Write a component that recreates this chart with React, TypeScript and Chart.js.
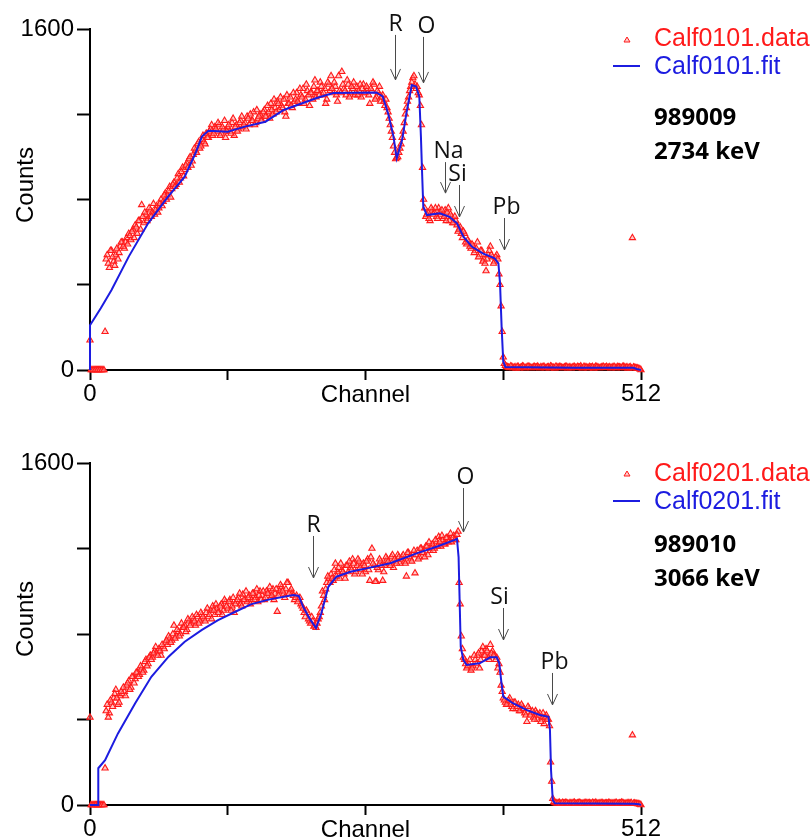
import React, { useEffect, useRef } from "react";
import { Chart, registerables } from "chart.js";
Chart.register(...registerables);

// ---------- DATA ----------
// measured counts are given on even channels (0,2,...,512) and odd channels (1,3,...,511)
const X_TICKS = [0, 128, 256, 384, 512];
const X_TICK_LABELS = ["0", "", "", "", "512"];
const Y_TICKS = [0, 400, 800, 1200, 1600];
const Y_TICK_LABELS = ["0", "", "", "", "1600"];

// Panel 1 (989009, 2734 keV) — even channels 0..512
const TOP_DATA_EVEN = [
  140, 0, 0, 0, 0, 0, 0, 180, 540, 480, 560, 510, 540, 520, 580, 600,
  570, 620, 640, 610, 660, 680, 640, 700, 775, 690, 730, 710, 750, 740, 730, 770,
  760, 800, 790, 830, 820, 860, 850, 880, 870, 920, 900, 950, 940, 970, 990, 960,
  1010, 1030, 1060, 1040, 1080, 1070, 1110, 1090, 1130, 1100, 1140, 1120, 1150, 1110, 1130, 1090,
  1140, 1120, 1160, 1100, 1150, 1130, 1170, 1140, 1160, 1190, 1150, 1170, 1210, 1160, 1180, 1200,
  1170, 1220, 1190, 1210, 1250, 1200, 1230, 1260, 1220, 1240, 1270, 1190, 1250, 1280, 1230, 1260,
  1300, 1250, 1290, 1320, 1270, 1310, 1240, 1300, 1330, 1280, 1310, 1350, 1290, 1320, 1270, 1340,
  1380, 1300, 1330, 1260, 1310, 1400, 1320, 1290, 1340, 1300, 1320, 1290, 1330, 1310, 1280, 1340,
  1300, 1320, 1250, 1310, 1340, 1280, 1300, 1260, 1290, 1240, 1230, 1180, 1120, 1050, 990, 1000,
  1040, 1090, 1160, 1230, 1280, 1330, 1370, 1340, 1330, 1290, 1150, 800, 720, 740, 700, 750,
  740, 720, 760, 730, 710, 750, 740, 700, 720, 690, 700, 650, 670, 620, 640, 590,
  600, 570, 580, 560, 600, 540, 560, 520, 465, 540, 580, 530, 510, 540, 450, 300,
  60, 20, 14, 10, 16, 12, 8, 15, 11, 18, 9, 13, 16, 10, 14, 12,
  17, 9, 12, 15, 10, 14, 18, 11, 8, 13, 16, 12, 10, 15, 9, 14,
  12, 16, 10, 13, 18, 9, 14, 11, 15, 12, 8, 17, 13, 10, 14, 11,
  16, 12, 9, 14, 11, 15, 13, 10, 17, 12, 8, 14, 620, 11, 9, 6,
  0,
];
// Panel 1 — odd channels 1..511
const TOP_DATA_ODD = [
  0, 0, 0, 0, 0, 0, 0, 520, 500, 560, 530, 490, 570, 550, 600, 580,
  600, 590, 630, 650, 620, 670, 700, 660, 720, 740, 700, 760, 720, 780, 750, 740,
  780, 770, 820, 800, 840, 810, 870, 860, 900, 880, 930, 910, 960, 950, 1000, 980,
  1040, 1020, 1070, 1050, 1100, 1060, 1090, 1120, 1150, 1110, 1130, 1160, 1100, 1140, 1170, 1120,
  1150, 1110, 1180, 1140, 1120, 1160, 1190, 1150, 1130, 1180, 1200, 1170, 1150, 1220, 1190, 1170,
  1210, 1190, 1240, 1180, 1220, 1270, 1210, 1250, 1280, 1230, 1210, 1290, 1250, 1240, 1300, 1270,
  1260, 1320, 1280, 1250, 1340, 1290, 1300, 1270, 1360, 1310, 1290, 1330, 1300, 1250, 1350, 1310,
  1320, 1350, 1290, 1380, 1300, 1340, 1310, 1360, 1280, 1330, 1350, 1300, 1290, 1340, 1320, 1300,
  1330, 1290, 1320, 1350, 1270, 1310, 1330, 1280, 1260, 1270, 1210, 1150, 1090, 1020, 995, 1020,
  1060, 1120, 1200, 1260, 1310, 1350, 1380, 1320, 1300, 1240, 950, 760, 730, 710, 760, 730,
  760, 710, 740, 750, 720, 700, 760, 730, 690, 720, 680, 660, 640, 650, 600, 610,
  580, 590, 550, 570, 530, 560, 510, 500, 520, 560, 540, 500, 530, 520, 400, 180,
  30, 15, 12, 18, 10, 14, 16, 9, 13, 15, 11, 17, 12, 10, 15, 13,
  11, 14, 16, 10, 13, 9, 15, 12, 17, 11, 14, 10, 13, 16, 12, 9,
  14, 11, 15, 12, 10, 16, 13, 9, 12, 15, 11, 14, 10, 13, 16, 12,
  10, 14, 12, 16, 9, 13, 11, 15, 10, 14, 12, 9, 13, 10, 8, 4,
];
const TOP_FIT_CH = [0, 0, 10, 20, 36, 54, 72, 88, 98, 104, 110, 128, 144, 163, 180, 210, 226, 266, 272, 277, 282, 285, 290, 294, 299, 303, 306, 307.5, 308.5, 309.7, 313, 325, 334, 341, 347, 355, 365, 376, 379.5, 381, 382.5, 384, 386, 450, 505, 508, 512];
const TOP_FIT_COUNTS = [0, 210, 290, 375, 532, 688, 810, 907, 1017, 1095, 1123, 1118, 1142, 1165, 1220, 1275, 1300, 1302, 1284, 1204, 1095, 993, 1079, 1204, 1337, 1330, 1283, 1095, 938, 766, 727, 735, 719, 688, 626, 578, 547, 524, 500, 407, 200, 40, 14, 10, 10, 5, 0];
const TOP_ARROW_LABELS = ["R", "O", "Na", "Si", "Pb"];
const TOP_ARROW_CH = [283.4, 309.4, 329.9, 342.9, 384.7];
const TOP_ARROW_COUNTS = [1361, 1347, 830, 718, 563];

// Panel 2 (989010, 3066 keV) — even channels 0..512
const BOT_DATA_EVEN = [
  410, 0, 0, 0, 0, 0, 0, 172, 470, 430, 480, 500, 540, 470, 510, 520,
  530, 560, 580, 550, 600, 590, 620, 610, 640, 630, 680, 660, 700, 690, 720, 710,
  730, 700, 740, 760, 750, 780, 770, 840, 790, 810, 800, 830, 840, 820, 860, 850,
  870, 840, 880, 860, 890, 870, 900, 880, 910, 930, 890, 920, 900, 940, 910, 950,
  920, 960, 930, 900, 950, 970, 940, 985, 960, 950, 980, 960, 990, 970, 950, 1000,
  980, 960, 1000, 990, 970, 1010, 990, 905, 1000, 1020, 990, 1010, 1040, 1000, 990, 960,
  980, 960, 940, 920, 880, 900, 860, 880, 835, 830, 870, 900, 1000, 960, 1040, 1060,
  1080, 1050, 1130, 1090, 1060, 1100, 1080, 1120, 1090, 1110, 1150, 1080, 1120, 1140, 1100, 1130,
  1090, 1150, 1050, 1200, 1120, 1045, 1100, 1140, 1050, 1120, 1150, 1130, 1160, 1110, 1140, 1170,
  1130, 1160, 1140, 1070, 1180, 1150, 1170, 1085, 1190, 1160, 1200, 1180, 1210, 1170, 1190, 1220,
  1200, 1230, 1255, 1210, 1240, 1220, 1250, 1240, 1230, 1260, 1240, 1280, 940, 730, 680, 640,
  660, 630, 650, 680, 700, 640, 720, 700, 730, 690, 750, 720, 700, 690, 660, 560,
  500, 480, 470, 500, 460, 480, 450, 470, 440, 460, 430, 390, 450, 430, 410, 440,
  400, 430, 410, 380, 420, 400, 200, 30, 10, 8, 12, 6, 9, 11, 7, 10,
  8, 12, 6, 10, 9, 7, 11, 8, 10, 6, 9, 12, 7, 8, 10, 6,
  9, 11, 7, 8, 10, 6, 9, 12, 8, 7, 10, 9, 327, 8, 6, 5,
  0,
];
// Panel 2 — odd channels 1..511
const BOT_DATA_ODD = [
  0, 0, 0, 0, 0, 0, 0, 440, 410, 490, 460, 520, 500, 480, 530, 550,
  510, 570, 540, 600, 570, 620, 600, 650, 620, 670, 650, 690, 680, 710, 740, 700,
  720, 750, 730, 770, 790, 760, 800, 780, 820, 790, 850, 830, 810, 870, 840, 880,
  860, 890, 850, 900, 880, 860, 920, 890, 870, 910, 940, 900, 930, 890, 960, 930,
  950, 910, 970, 940, 960, 990, 930, 960, 1000, 970, 940, 990, 960, 1010, 980, 960,
  1000, 970, 990, 1020, 980, 960, 1010, 980, 1030, 1000, 970, 1040, 990, 1010, 980, 970,
  950, 970, 930, 900, 910, 870, 850, 860, 840, 850, 880, 930, 980, 1010, 1070, 1040,
  1060, 1100, 1070, 1110, 1130, 1090, 1060, 1120, 1140, 1100, 1130, 1090, 1150, 1110, 1080, 1120,
  1140, 1100, 1160, 1130, 1045, 1110, 1150, 1120, 1090, 1160, 1140, 1120, 1170, 1150, 1130, 1160,
  1150, 1170, 1130, 1180, 1160, 1140, 1190, 1170, 1150, 1200, 1180, 1160, 1210, 1230, 1200, 1190,
  1240, 1210, 1230, 1260, 1220, 1250, 1230, 1270, 1250, 1240, 1265, 1040, 790, 690, 660, 650,
  680, 640, 700, 660, 710, 680, 740, 700, 720, 680, 710, 700, 680, 640, 620, 530,
  490, 470, 490, 470, 450, 480, 460, 440, 470, 450, 420, 460, 420, 440, 400, 430,
  420, 390, 430, 410, 400, 370, 110, 15, 10, 9, 7, 11, 8, 10, 6, 9,
  10, 7, 9, 11, 6, 8, 10, 9, 7, 11, 8, 6, 9, 10, 7, 8,
  7, 10, 8, 9, 11, 7, 8, 10, 6, 9, 8, 10, 7, 6, 5, 3,
];
const BOT_FIT_CH = [0, 7.7, 7.7, 14, 26, 42, 57, 73, 88, 104, 119, 135, 150, 167, 189, 194, 198, 204, 210, 215, 221.5, 229, 242, 257, 279, 303.5, 322, 339, 341, 342.5, 343.5, 344.5, 347, 350, 362, 372, 378, 380.3, 382, 384, 393, 406, 418, 426, 427.4, 428.4, 430, 432, 505, 510, 512];
const BOT_FIT_COUNTS = [0, 0, 172, 210, 335, 476, 600, 694, 764, 819, 865, 904, 940, 962, 982, 978, 928, 873, 828, 897, 1021, 1068, 1091, 1107, 1131, 1177, 1208, 1240, 1245, 1160, 950, 740, 678, 655, 663, 691, 691, 663, 585, 507, 476, 444, 421, 413, 351, 164, 23, 8, 6, 4, 0];
const BOT_ARROW_LABELS = ["R", "O", "Si", "Pb"];
const BOT_ARROW_CH = [207.2, 346.9, 383.5, 429.3];
const BOT_ARROW_COUNTS = [1062, 1277, 772, 468];

// ---------- STYLE / LAYOUT ----------
const RED = "#ff1a1a";
const PINK = "rgba(255,150,150,0.5)";
const BLUE = "#1c1ce0";
const AXIS_FONT = '"Liberation Sans", Arial, sans-serif';
const NOTE_FONT = '"Open Sans", "Noto Sans", sans-serif';

type Panel = {
  even: number[];
  odd: number[];
  fitCh: number[];
  fitCounts: number[];
  arrowLabels: string[];
  arrowCh: number[];
  arrowCounts: number[];
  arrowLen: number[];
  labelDx: number[];
  legendData: string;
  legendFit: string;
  run: string;
  energy: string;
  padTop: number;
  xAxisHeight: number;
  ly: { tri: number; dataText: number; line: number; fitText: number; run: number; energy: number };
};

const PANELS: Panel[] = [
  {
    even: TOP_DATA_EVEN,
    odd: TOP_DATA_ODD,
    fitCh: TOP_FIT_CH,
    fitCounts: TOP_FIT_COUNTS,
    arrowLabels: TOP_ARROW_LABELS,
    arrowCh: TOP_ARROW_CH,
    arrowCounts: TOP_ARROW_COUNTS,
    arrowLen: [45, 46, 31, 32, 32],
    labelDx: [0, 3, 3, -2, 2],
    legendData: "Calf0101.data",
    legendFit: "Calf0101.fit",
    run: "989009",
    energy: "2734 keV",
    padTop: 29,
    xAxisHeight: 49,
    ly: { tri: 40, dataText: 46, line: 66, fitText: 74, run: 125, energy: 159 },
  },
  {
    even: BOT_DATA_EVEN,
    odd: BOT_DATA_ODD,
    fitCh: BOT_FIT_CH,
    fitCounts: BOT_FIT_COUNTS,
    arrowLabels: BOT_ARROW_LABELS,
    arrowCh: BOT_ARROW_CH,
    arrowCounts: BOT_ARROW_COUNTS,
    arrowLen: [42, 44, 32, 32],
    labelDx: [0, 2, -4, 2],
    legendData: "Calf0201.data",
    legendFit: "Calf0201.fit",
    run: "989010",
    energy: "3066 keV",
    padTop: 44,
    xAxisHeight: 33,
    ly: { tri: 55, dataText: 62, line: 82, fitText: 90, run: 133, energy: 167 },
  },
];

function overlay(p: Panel) {
  return {
    id: "overlay",
    afterDraw(chart: any) {
      const ctx: CanvasRenderingContext2D = chart.ctx;
      const xs = chart.scales.x;
      const ys = chart.scales.y;
      const area = chart.chartArea;
      ctx.save();
      for (let i = 0; i < p.arrowLabels.length; i++) {
        const x = Math.round(xs.getPixelForValue(p.arrowCh[i])) + 0.5;
        const tip = ys.getPixelForValue(p.arrowCounts[i]);
        const start = tip - p.arrowLen[i];
        ctx.strokeStyle = "#4a4a4a";
        ctx.lineWidth = 1;
        ctx.beginPath();
        ctx.moveTo(x, start);
        ctx.lineTo(x, tip);
        ctx.moveTo(x - 5, tip - 11);
        ctx.lineTo(x, tip);
        ctx.lineTo(x + 5, tip - 11);
        ctx.stroke();
        ctx.fillStyle = "#111";
        ctx.font = `23px ${NOTE_FONT}`;
        ctx.textAlign = "center";
        ctx.textBaseline = "alphabetic";
        ctx.fillText(p.arrowLabels[i], x + p.labelDx[i], start - 4);
      }
      ctx.fillStyle = "#000";
      ctx.font = `24px ${AXIS_FONT}`;
      ctx.textAlign = "center";
      ctx.textBaseline = "alphabetic";
      ctx.fillText("Channel", (area.left + area.right) / 2, area.bottom + 32);
      ctx.save();
      ctx.translate(33, area.top + 156);
      ctx.rotate(-Math.PI / 2);
      ctx.fillText("Counts", 0, 0);
      ctx.restore();
      const tx = 627;
      const ty = p.ly.tri;
      ctx.beginPath();
      ctx.moveTo(tx, ty - 3);
      ctx.lineTo(tx + 3, ty + 2);
      ctx.lineTo(tx - 3, ty + 2);
      ctx.closePath();
      ctx.fillStyle = PINK;
      ctx.fill();
      ctx.strokeStyle = RED;
      ctx.lineWidth = 1;
      ctx.stroke();
      ctx.strokeStyle = BLUE;
      ctx.lineWidth = 2;
      ctx.beginPath();
      ctx.moveTo(613, p.ly.line);
      ctx.lineTo(640, p.ly.line);
      ctx.stroke();
      ctx.textAlign = "left";
      ctx.font = `25px ${AXIS_FONT}`;
      ctx.fillStyle = RED;
      ctx.fillText(p.legendData, 654, p.ly.dataText);
      ctx.fillStyle = BLUE;
      ctx.fillText(p.legendFit, 654, p.ly.fitText);
      ctx.fillStyle = "#000";
      ctx.font = `bold 24px ${NOTE_FONT}`;
      ctx.fillText(p.run, 654, p.ly.run);
      ctx.fillText(p.energy, 654, p.ly.energy);
      ctx.restore();
    },
  };
}

function build(canvas: HTMLCanvasElement, p: Panel) {
  const dataPts = [
    ...p.even.map((c, i) => ({ x: i * 2, y: c })),
    ...p.odd.map((c, i) => ({ x: i * 2 + 1, y: c })),
  ];
  const fitPts = p.fitCh.map((ch, i) => ({ x: ch, y: p.fitCounts[i] }));
  const tickFont = { family: AXIS_FONT, size: 24 };
  return new Chart(canvas, {
    type: "scatter",
    data: {
      datasets: [
        {
          label: p.legendFit,
          data: fitPts,
          showLine: true,
          borderColor: BLUE,
          borderWidth: 2,
          pointRadius: 0,
          tension: 0,
          clip: false,
          order: 0,
        } as any,
        {
          label: p.legendData,
          data: dataPts,
          pointStyle: "triangle",
          pointRadius: 3.6,
          borderColor: RED,
          backgroundColor: PINK,
          borderWidth: 1.1,
          clip: false,
          order: 1,
        } as any,
      ],
    },
    options: {
      animation: false,
      responsive: false,
      devicePixelRatio: 1,
      events: [],
      layout: { padding: { left: 0, right: 170, top: p.padTop, bottom: 0 } },
      plugins: { legend: { display: false }, tooltip: { enabled: false } },
      scales: {
        x: {
          type: "linear",
          min: 0,
          max: 512,
          afterFit: (s: any) => {
            s.height = p.xAxisHeight;
          },
          afterBuildTicks: (s: any) => {
            s.ticks = X_TICKS.map((v) => ({ value: v }));
          },
          ticks: {
            callback: (v: any) => X_TICK_LABELS[X_TICKS.indexOf(Number(v))] ?? "",
            font: tickFont,
            color: "#000",
            padding: 0,
            maxRotation: 0,
            autoSkip: false,
          },
          grid: { display: true, drawOnChartArea: false, drawTicks: true, tickLength: 10, tickWidth: 2, tickColor: "#000" },
          border: { display: true, color: "#000", width: 2 },
        },
        y: {
          type: "linear",
          min: 0,
          max: 1600,
          afterFit: (s: any) => {
            s.width = 90;
          },
          afterBuildTicks: (s: any) => {
            s.ticks = Y_TICKS.map((v) => ({ value: v }));
          },
          ticks: {
            callback: (v: any) => Y_TICK_LABELS[Y_TICKS.indexOf(Number(v))] ?? "",
            font: tickFont,
            color: "#000",
            padding: 3,
            autoSkip: false,
          },
          grid: { display: true, drawOnChartArea: false, drawTicks: true, tickLength: 13, tickWidth: 2, tickColor: "#000" },
          border: { display: true, color: "#000", width: 2 },
        },
      },
    } as any,
    plugins: [overlay(p)],
  });
}

export default function App() {
  const topRef = useRef<HTMLCanvasElement>(null);
  const botRef = useRef<HTMLCanvasElement>(null);
  useEffect(() => {
    const charts: Chart[] = [];
    if (topRef.current) charts.push(build(topRef.current, PANELS[0]));
    if (botRef.current) charts.push(build(botRef.current, PANELS[1]));
    return () => charts.forEach((c) => c.destroy());
  }, []);
  return (
    <div style={{ position: "absolute", left: 0, top: 0, width: 811, height: 838, background: "#fff" }}>
      <canvas ref={topRef} width={811} height={419} style={{ display: "block", position: "absolute", left: 0, top: 0 }} />
      <canvas ref={botRef} width={811} height={419} style={{ display: "block", position: "absolute", left: 0, top: 419 }} />
    </div>
  );
}
